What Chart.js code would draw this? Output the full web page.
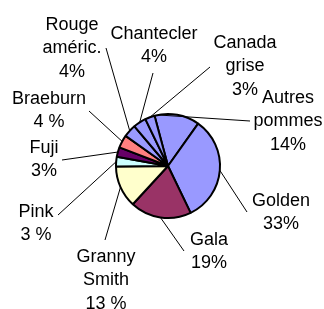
<!DOCTYPE html>
<html>
<head>
<meta charset="utf-8">
<script src="https://cdn.jsdelivr.net/npm/chart.js@4/dist/chart.umd.min.js"></script>
<style>
  html, body { margin: 0; padding: 0; background: #fff; }
  #wrap { width: 324px; height: 309px; position: relative; }
</style>
</head>
<body>
<div id="wrap"><canvas id="pie"></canvas></div>
<script>
// slices, clockwise from the top
const varieties = ["Autres pommes", "Golden", "Gala", "Granny Smith", "Pink", "Fuji", "Braeburn", "Rouge américain", "Chantecler", "Canada grise"]
const shares = [14, 33, 19, 13, 3, 3, 4, 4, 4, 3]
const labelLines = [
  ["Autres", "pommes", "14%"],
  ["Golden", "33%"],
  ["Gala", "19%"],
  ["Granny", "Smith", "13 %"],
  ["Pink", "3 %"],
  ["Fuji", "3%"],
  ["Braeburn", "4 %"],
  ["Rouge", "améric.", "4%"],
  ["Chantecler", "4%"],
  ["Canada", "grise", "3%"]
]
const sliceColors = ["#9999ff", "#9999ff", "#993366", "#ffffcc", "#ccffff", "#660066", "#ff8080", "#9999ff", "#9999ff", "#9999ff"]

// where each label sits: text centre x, first line y, leader line start,
// and where along the slice (0..1) the leader touches the rim
const labelPos = [
  { x: 288, y: 98, lx: 250, ly: 121, at: 0.08 },
  { x: 281, y: 201, lx: 247, ly: 212, at: 0.5 },
  { x: 209, y: 240, lx: 184, ly: 251, at: 0.5 },
  { x: 106, y: 257, lx: 105, ly: 240, at: 0.5 },
  { x: 36, y: 212, lx: 58, ly: 215, at: 0.5 },
  { x: 44, y: 148, lx: 62, ly: 160, at: 0.5 },
  { x: 49, y: 99, lx: 89, ly: 111, at: 0.5 },
  { x: 72, y: 25, lx: 106, ly: 48, at: 0.5 },
  { x: 154, y: 34, lx: 153, ly: 73, at: 0.5 },
  { x: 245, y: 43, lx: 210, ly: 67, at: 0.5 }
]

const calloutPlugin = {
  id: "callouts",
  afterDatasetsDraw(chart) {
    const ctx = chart.ctx
    const arcs = chart.getDatasetMeta(0).data
    ctx.save()
    ctx.strokeStyle = "#000"
    ctx.lineWidth = 1
    arcs.forEach((arc, i) => {
      const p = labelPos[i]
      const a = arc.startAngle + (arc.endAngle - arc.startAngle) * p.at
      const ex = arc.x + Math.cos(a) * arc.outerRadius
      const ey = arc.y + Math.sin(a) * arc.outerRadius
      ctx.beginPath()
      ctx.moveTo(p.lx, p.ly)
      ctx.lineTo(ex, ey)
      ctx.stroke()
    })
    ctx.fillStyle = "#000"
    ctx.font = "18px 'Liberation Sans', Arial, sans-serif"
    ctx.textAlign = "center"
    ctx.textBaseline = "middle"
    labelLines.forEach((lines, i) => {
      const p = labelPos[i]
      lines.forEach((t, j) => ctx.fillText(t, p.x, p.y + j * 23.5))
    })
    ctx.restore()
  }
}

new Chart(document.getElementById("pie"), {
  type: "pie",
  data: {
    labels: varieties,
    datasets: [{
      data: shares,
      backgroundColor: sliceColors,
      borderColor: "#000",
      borderWidth: 2
    }]
  },
  options: {
    responsive: true,
    maintainAspectRatio: false,
    animation: false,
    rotation: -15,
    layout: { padding: { left: 115, right: 103, top: 113, bottom: 90 } },
    plugins: { legend: { display: false }, tooltip: { enabled: false } }
  },
  plugins: [calloutPlugin]
})
</script>
</body>
</html>
